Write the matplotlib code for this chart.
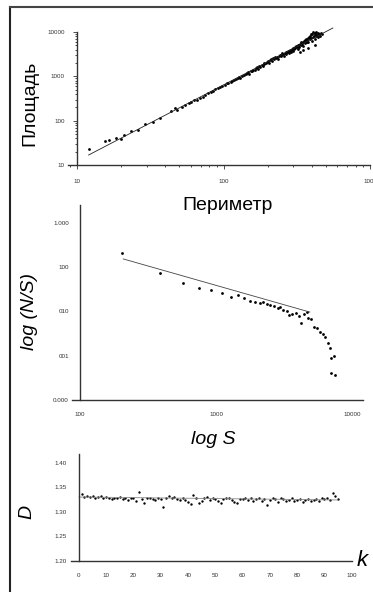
import matplotlib
matplotlib.use("Agg")
import matplotlib.pyplot as plt
from matplotlib.lines import Line2D
from matplotlib.ticker import FixedLocator, NullFormatter

plt.rcParams["font.family"] = ["Liberation Sans", "DejaVu Sans"]

# ---------------------------------------------------------------
# Data
# ---------------------------------------------------------------
# Panel 1: area vs perimeter (log-log)
perim = [12, 15.5, 16.5, 18.5, 20, 21, 23.5, 26, 29, 33, 37, 44, 47, 48, 52,
         55, 58, 60, 63, 66, 69, 72, 75, 78, 82, 85, 88, 92, 95, 98, 102,
         105, 108, 112, 115, 118, 122, 125, 128, 130, 134, 138, 142, 145,
         148, 150, 153, 156, 160, 163, 166, 170, 172, 175, 178, 182, 185,
         188, 190, 195, 198, 200, 205, 208, 212, 215, 218, 222, 225, 228,
         232, 235, 238, 242, 245, 248, 252, 255, 258, 262, 265, 268, 272,
         275, 278, 282, 285, 288, 292, 295, 298, 300, 305, 308, 310, 314,
         318, 320, 324, 328, 330, 334, 338, 340, 344, 348, 350, 354, 358,
         360, 364, 368, 370, 374, 378, 380, 384, 388, 390, 394, 398, 400,
         404, 408, 410, 414, 418, 420, 424, 428, 430, 435, 440, 445, 450,
         455, 462, 470, 333, 350, 380, 420]
area = [23, 35, 36, 40, 38, 47, 58, 62, 86, 95, 112, 165, 190, 172, 208,
        230, 250, 262, 300, 290, 330, 345, 372, 410, 440, 470, 505, 545,
        560, 600, 640, 690, 700, 760, 780, 830, 870, 900, 960, 920, 1020,
        1080, 1100, 1180, 1250, 1150, 1300, 1350, 1420, 1380, 1520, 1600,
        1480, 1700, 1650, 1800, 1700, 1900, 2000, 1950, 2100, 2250, 2050,
        2300, 2400, 2200, 2550, 2450, 2700, 2600, 2800, 2500, 2900, 3100,
        2850, 3000, 3300, 3150, 2900, 3400, 3600, 3250, 3500, 3800, 3400,
        3700, 4000, 3600, 4200, 3900, 4400, 3700, 4100, 4600, 4300, 4800,
        4500, 5000, 4200, 5200, 4700, 5500, 5000, 5800, 5300, 6000, 4800,
        6200, 5600, 6500, 5900, 7000, 6100, 6600, 7400, 5800, 7800, 6900,
        8200, 7200, 8800, 6400, 9200, 7600, 9800, 8300, 9000, 7000, 9600,
        8100, 10200, 8600, 9400, 7800, 9000, 8200, 9500, 8800, 3550, 3900,
        4300, 5200]
fit1_x = [12, 558]
fit1_y = [16.8, 12300]

# Panel 2: log(N/S) vs log S
size_s = [202, 387, 569, 748, 916, 1104, 1286, 1452, 1619, 1787, 1941,
          2108, 2227, 2377, 2512, 2655, 2851, 2958, 3126, 3304, 3452, 3648,
          3852, 4064, 4252, 4416, 4667, 4744, 4955, 5293, 5503, 5810, 6140,
          6383, 6668, 6855, 7047, 7362, 7047, 7519]
ns = [0.214, 0.0757, 0.0435, 0.0341, 0.0307, 0.0258, 0.0217, 0.0233,
      0.0203, 0.0171, 0.0168, 0.0159, 0.0160, 0.0149, 0.0141, 0.0134,
      0.0119, 0.0129, 0.0109, 0.0103, 0.0084, 0.0088, 0.0091, 0.0080,
      0.0056, 0.0088, 0.0095, 0.0070, 0.0067, 0.0044, 0.0042, 0.0035,
      0.0031, 0.0027, 0.0019, 0.0015, 0.00088, 0.0010, 0.00040, 0.00036]
fit2_x = [208, 4900]
fit2_y = [0.154, 0.0097]

# Panel 3: D vs k
k_vals = list(range(1, 96))
d_vals = [1.336, 1.331, 1.333, 1.330, 1.332, 1.329, 1.331, 1.333, 1.327, 1.330,
          1.328, 1.325, 1.329, 1.327, 1.330, 1.326, 1.328, 1.324, 1.329, 1.327,
          1.322, 1.341, 1.326, 1.318, 1.329, 1.327, 1.325, 1.323, 1.328, 1.326,
          1.309, 1.327, 1.332, 1.329, 1.330, 1.326, 1.324, 1.327, 1.323, 1.320,
          1.315, 1.334, 1.329, 1.317, 1.322, 1.328, 1.330, 1.324, 1.327, 1.326,
          1.321, 1.318, 1.325, 1.329, 1.327, 1.323, 1.320, 1.318, 1.326, 1.325,
          1.327, 1.324, 1.329, 1.321, 1.325, 1.328, 1.322, 1.326, 1.314, 1.323,
          1.327, 1.325, 1.320, 1.329, 1.326, 1.322, 1.324, 1.327, 1.321, 1.324,
          1.326, 1.320, 1.323, 1.325, 1.321, 1.324, 1.326, 1.322, 1.327, 1.325,
          1.329, 1.324, 1.338, 1.333, 1.326]
fit3_x = [0, 95]
fit3_y = [1.330, 1.324]

# ---------------------------------------------------------------
# Figure
# ---------------------------------------------------------------
W, H = 373, 592
fig = plt.figure(figsize=(W / 100, H / 100), dpi=100)

AX_COLOR = "#333333"
TICK_FS = 4.5
LABEL_FS = 14


def px_rect(x0, y_top, x1, y_bot):
    return [x0 / W, 1 - y_bot / H, (x1 - x0) / W, (y_bot - y_top) / H]


def style_axes(ax, spine_x):
    ax.spines["top"].set_visible(False)
    ax.spines["right"].set_visible(False)
    for s in ("left", "bottom"):
        ax.spines[s].set_color(AX_COLOR)
        ax.spines[s].set_linewidth(1.0)
    ax.spines["left"].set_position(("data", spine_x))
    ax.tick_params(labelsize=TICK_FS, colors=AX_COLOR, length=3, width=0.6,
                   pad=6)
    ax.tick_params(which="minor", length=1.5, width=0.5)
    ax.patch.set_alpha(0)


# Panel 1 ------------------------------------------------------
ax1 = fig.add_axes(px_rect(68, 32, 370, 165))
ax1.set_xscale("log")
ax1.set_yscale("log")
ax1.scatter(perim, area, s=4, color="black", linewidths=0, clip_on=False)
ax1.plot(fit1_x, fit1_y, color="#222222", lw=0.6, clip_on=False)
ax1.set_xlim(8.68, 1000)
ax1.set_ylim(10, 10000)
style_axes(ax1, 10)
ax1.xaxis.set_major_locator(FixedLocator([10, 100, 1000]))
ax1.set_xticklabels(["10", "100", "1000"])
ax1.yaxis.set_major_locator(FixedLocator([10, 100, 1000, 10000]))
ax1.set_yticklabels(["10", "100", "1000", "10000"])
ax1.xaxis.set_minor_formatter(NullFormatter())
ax1.yaxis.set_minor_formatter(NullFormatter())
ax1.tick_params(axis="x", pad=7)

# Panel 2 ------------------------------------------------------
ax2 = fig.add_axes(px_rect(72, 205, 363, 400))
ax2.set_xscale("log")
ax2.set_yscale("log")
ax2.scatter(size_s, ns, s=4, color="black", linewidths=0)
ax2.plot(fit2_x, fit2_y, color="#444444", lw=0.6)
ax2.set_xlim(87.3, 12050)
ax2.set_ylim(1e-4, 2.55)
style_axes(ax2, 100)
ax2.xaxis.set_major_locator(FixedLocator([100, 1000, 10000]))
ax2.set_xticklabels(["100", "1000", "10000"])
ax2.yaxis.set_major_locator(FixedLocator([1e-4, 1e-3, 1e-2, 1e-1, 1]))
ax2.set_yticklabels(["0.000", "001", "010", "100", "1.000"])
ax2.xaxis.set_minor_locator(FixedLocator([]))
ax2.yaxis.set_minor_locator(FixedLocator([]))
ax2.tick_params(axis="x", length=0, pad=9)
ax2.tick_params(axis="y", length=0, pad=8)

# Panel 3 ------------------------------------------------------
ax3 = fig.add_axes(px_rect(70.7, 454, 351.7, 560.7))
ax3.scatter(k_vals, d_vals, s=3, color="black", linewidths=0)
ax3.plot(fit3_x, fit3_y, color="#888888", lw=0.6)
ax3.set_xlim(-3, 100)
ax3.set_ylim(1.20, 1.4178)
style_axes(ax3, 0)
ax3.set_xticks(range(0, 101, 10))
ax3.set_yticks([1.20, 1.25, 1.30, 1.35, 1.40])
ax3.set_yticklabels(["1.20", "1.25", "1.30", "1.35", "1.40"])
ax3.tick_params(length=0)
ax3.tick_params(axis="x", pad=9)
ax3.tick_params(axis="y", pad=9)

# Axis titles --------------------------------------------------
def ftext(x, y, s, **kw):
    fig.text(x / W, 1 - y / H, s, ha="center", va="center", **kw)


ftext(30, 103, "Площадь", rotation=90, fontsize=LABEL_FS)
ftext(228, 205, "Периметр", fontsize=LABEL_FS)
ftext(30, 311, "log (N/S)", rotation=90, fontsize=LABEL_FS, style="italic")
ftext(213, 440, "log S", fontsize=LABEL_FS, style="italic")
ftext(27, 512, "D", rotation=90, fontsize=LABEL_FS, style="italic")
ftext(362, 560, "k", fontsize=LABEL_FS + 2, style="italic")

# Outer frame (top and left edges) ----------------------------
fig.add_artist(Line2D([10 / W, 10 / W], [0, 1 - 7 / H], color="#222222",
                      lw=1.5, transform=fig.transFigure))
fig.add_artist(Line2D([10 / W, 1], [1 - 7 / H, 1 - 7 / H], color="#444444",
                      lw=1.5, transform=fig.transFigure))

fig.savefig("out.png", dpi=100)
